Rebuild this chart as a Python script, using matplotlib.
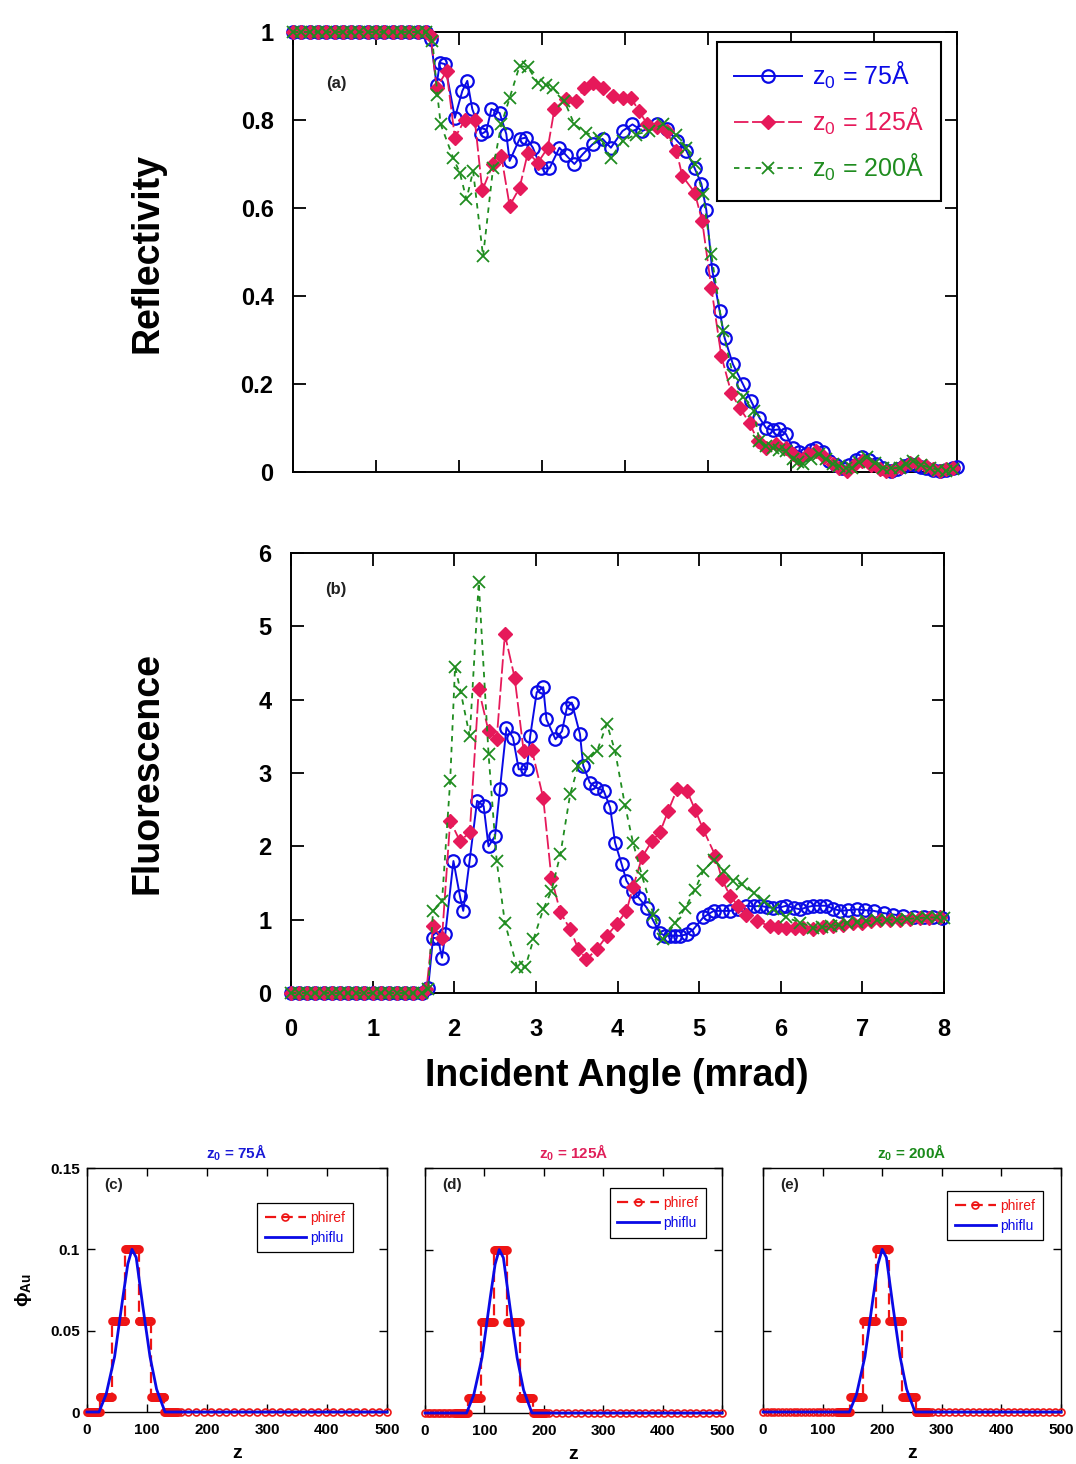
import numpy as np
import matplotlib
matplotlib.use('Agg')
import matplotlib.pyplot as plt
from matplotlib import font_manager
from matplotlib.ticker import FixedLocator, FixedFormatter

# ---------------- fonts ----------------
_names = {f.name for f in font_manager.fontManager.ttflist}
COND = 'Liberation Sans Narrow' if 'Liberation Sans Narrow' in _names else 'Liberation Sans'
plt.rcParams['font.family'] = [COND, 'DejaVu Sans']
plt.rcParams['mathtext.fontset'] = 'custom'
plt.rcParams['mathtext.rm'] = 'Liberation Sans'
plt.rcParams['mathtext.bf'] = 'Liberation Sans:bold'

# ---------------- colours ----------------
C_BLUE = '#0a0ae6'
C_RED = '#e6195a'
C_GREEN = '#1f8c1f'
C_REF = '#ee1515'

series_labels = ['$\\mathregular{z_0}$ = 75Å', '$\\mathregular{z_0}$ = 125Å', '$\\mathregular{z_0}$ = 200Å']

# ---------------- data: reflectivity ----------------
flat_x = [0.0, 0.1, 0.2, 0.3, 0.4, 0.5, 0.6, 0.7, 0.8, 0.9, 1.0, 1.1, 1.2, 1.3, 1.4, 1.5, 1.6]
flat_R = [1.0] * 17
flat_F = [0.0] * 17

R75_x = [1.66, 1.73, 1.77, 1.83, 1.95, 2.04, 2.10, 2.16, 2.27, 2.33, 2.39, 2.49, 2.57, 2.61,
         2.73, 2.81, 2.89, 2.99, 3.09, 3.21, 3.29, 3.39, 3.49, 3.61, 3.73, 3.83, 3.97, 4.09,
         4.21, 4.38, 4.50, 4.63, 4.74, 4.84, 4.92, 4.98, 5.05, 5.14, 5.20, 5.30, 5.42, 5.52,
         5.62, 5.70, 5.78, 5.86, 5.94, 6.02, 6.10, 6.18, 6.24, 6.30, 6.38, 6.46, 6.54, 6.62,
         6.70, 6.78, 6.86, 6.94, 7.03, 7.11, 7.20, 7.28, 7.36, 7.43, 7.51, 7.57, 7.63, 7.71,
         7.79, 7.87, 7.95, 8.00]
R75_y = [0.983, 0.88, 0.93, 0.927, 0.805, 0.866, 0.889, 0.825, 0.768, 0.775, 0.825, 0.816, 0.768, 0.707,
         0.757, 0.76, 0.737, 0.69, 0.69, 0.737, 0.72, 0.70, 0.722, 0.745, 0.757, 0.737, 0.775, 0.79,
         0.775, 0.79, 0.78, 0.752, 0.73, 0.69, 0.655, 0.595, 0.46, 0.366, 0.305, 0.245, 0.20, 0.161,
         0.123, 0.10, 0.095, 0.097, 0.086, 0.055, 0.045, 0.04, 0.05, 0.055, 0.045, 0.025, 0.015, 0.01,
         0.015, 0.028, 0.033, 0.028, 0.018, 0.008, 0.002, 0.006, 0.014, 0.018, 0.016, 0.012, 0.01, 0.005,
         0.002, 0.004, 0.01, 0.012]

R125_x = [1.66, 1.73, 1.85, 1.95, 2.07, 2.19, 2.28, 2.41, 2.51, 2.61, 2.73, 2.83, 2.95, 3.07,
          3.15, 3.29, 3.41, 3.51, 3.61, 3.73, 3.85, 3.97, 4.07, 4.17, 4.27, 4.38, 4.50, 4.62,
          4.69, 4.84, 4.93, 5.04, 5.16, 5.28, 5.38, 5.50, 5.60, 5.70, 5.82, 5.94, 6.02, 6.10,
          6.20, 6.30, 6.40, 6.50, 6.58, 6.67, 6.76, 6.86, 6.96, 7.07, 7.15, 7.22, 7.32, 7.43,
          7.53, 7.63, 7.71, 7.79, 7.87, 7.95]
R125_y = [0.99, 0.873, 0.911, 0.76, 0.80, 0.80, 0.64, 0.70, 0.718, 0.605, 0.646, 0.726, 0.703, 0.737,
          0.825, 0.848, 0.843, 0.873, 0.885, 0.873, 0.855, 0.851, 0.851, 0.82, 0.79, 0.783, 0.775, 0.73,
          0.673, 0.635, 0.57, 0.419, 0.264, 0.18, 0.146, 0.112, 0.07, 0.055, 0.064, 0.055, 0.04, 0.03,
          0.04, 0.048, 0.035, 0.018, 0.008, 0.002, 0.015, 0.025, 0.016, 0.007, 0.003, 0.002, 0.012, 0.021,
          0.018, 0.014, 0.007, 0.002, 0.006, 0.01]

R200_x = [1.68, 1.74, 1.78, 1.93, 2.01, 2.09, 2.17, 2.29, 2.41, 2.51, 2.61, 2.73, 2.83, 2.95,
          3.05, 3.13, 3.27, 3.39, 3.53, 3.69, 3.83, 3.97, 4.13, 4.29, 4.46, 4.62, 4.74, 4.84,
          4.94, 5.04, 5.18, 5.30, 5.42, 5.55, 5.62, 5.70, 5.78, 5.86, 5.94, 6.02, 6.08, 6.15,
          6.24, 6.34, 6.42, 6.50, 6.58, 6.66, 6.74, 6.82, 6.91, 7.01, 7.11, 7.21, 7.31, 7.39,
          7.47, 7.57, 7.67, 7.77, 7.87, 7.95]
R200_y = [0.98, 0.856, 0.79, 0.714, 0.68, 0.62, 0.684, 0.49, 0.69, 0.79, 0.85, 0.923, 0.92, 0.885,
          0.88, 0.873, 0.843, 0.79, 0.771, 0.76, 0.714, 0.752, 0.767, 0.775, 0.79, 0.767, 0.737, 0.70,
          0.631, 0.495, 0.32, 0.22, 0.17, 0.139, 0.07, 0.06, 0.055, 0.05, 0.048, 0.03, 0.022, 0.018,
          0.03, 0.04, 0.03, 0.018, 0.013, 0.01, 0.01, 0.022, 0.033, 0.02, 0.01, 0.008, 0.01, 0.018,
          0.025, 0.016, 0.01, 0.005, 0.002, 0.006]

# ---------------- data: fluorescence ----------------
F75_x = [1.68, 1.74, 1.80, 1.85, 1.89, 1.99, 2.07, 2.11, 2.19, 2.28, 2.36, 2.42, 2.50, 2.56,
         2.64, 2.72, 2.79, 2.89, 2.93, 3.01, 3.09, 3.13, 3.24, 3.32, 3.38, 3.44, 3.54, 3.58,
         3.66, 3.74, 3.83, 3.91, 3.97, 4.05, 4.11, 4.19, 4.26, 4.36, 4.44, 4.52, 4.58, 4.64,
         4.70, 4.77, 4.85, 4.93, 5.05, 5.12, 5.18, 5.28, 5.38, 5.48, 5.58, 5.67, 5.75, 5.83,
         5.91, 6.00, 6.07, 6.16, 6.24, 6.32, 6.40, 6.48, 6.56, 6.64, 6.73, 6.83, 6.93, 7.03,
         7.14, 7.26, 7.38, 7.50, 7.63, 7.75, 7.87, 7.97]
F75_y = [0.07, 0.75, 0.75, 0.48, 0.80, 1.80, 1.32, 1.12, 1.82, 2.62, 2.55, 2.00, 2.14, 2.78,
         3.62, 3.48, 3.05, 3.05, 3.50, 4.10, 4.17, 3.73, 3.46, 3.57, 3.89, 3.96, 3.53, 3.10,
         2.87, 2.80, 2.76, 2.53, 2.05, 1.76, 1.53, 1.39, 1.30, 1.16, 0.98, 0.82, 0.78, 0.78,
         0.78, 0.78, 0.80, 0.87, 1.03, 1.08, 1.12, 1.12, 1.12, 1.15, 1.19, 1.18, 1.19, 1.17,
         1.16, 1.17, 1.19, 1.16, 1.14, 1.17, 1.19, 1.19, 1.19, 1.15, 1.12, 1.13, 1.14, 1.13,
         1.12, 1.09, 1.07, 1.05, 1.03, 1.03, 1.03, 1.02]

F125_x = [1.66, 1.74, 1.85, 1.95, 2.07, 2.19, 2.30, 2.42, 2.52, 2.62, 2.74, 2.85, 2.95, 3.09,
          3.19, 3.30, 3.42, 3.52, 3.62, 3.75, 3.87, 3.99, 4.11, 4.19, 4.30, 4.42, 4.52, 4.62,
          4.73, 4.85, 4.95, 5.05, 5.20, 5.28, 5.38, 5.48, 5.58, 5.71, 5.87, 5.97, 6.07, 6.17,
          6.27, 6.40, 6.52, 6.64, 6.76, 6.88, 7.00, 7.11, 7.22, 7.34, 7.46, 7.58, 7.70, 7.82,
          7.95]
F125_y = [0.05, 0.91, 0.75, 2.35, 2.07, 2.19, 4.14, 3.57, 3.46, 4.89, 4.30, 3.30, 3.32, 2.66,
          1.57, 1.10, 0.87, 0.60, 0.46, 0.60, 0.78, 0.94, 1.12, 1.44, 1.85, 2.07, 2.19, 2.48,
          2.78, 2.76, 2.50, 2.23, 1.87, 1.55, 1.32, 1.19, 1.07, 0.98, 0.91, 0.90, 0.89, 0.89,
          0.89, 0.87, 0.90, 0.92, 0.93, 0.95, 0.96, 0.98, 1.00, 1.00, 1.00, 1.01, 1.02, 1.02,
          1.03]

F200_x = [1.68, 1.74, 1.85, 1.95, 2.01, 2.08, 2.19, 2.30, 2.42, 2.52, 2.62, 2.77, 2.87, 2.97,
          3.09, 3.19, 3.30, 3.42, 3.52, 3.64, 3.75, 3.87, 3.97, 4.09, 4.19, 4.30, 4.44, 4.56,
          4.71, 4.83, 4.95, 5.05, 5.18, 5.30, 5.42, 5.52, 5.67, 5.79, 5.91, 6.07, 6.24, 6.40,
          6.50, 6.61, 6.71, 6.81, 6.93, 7.05, 7.18, 7.30, 7.42, 7.55, 7.67, 7.79, 7.92, 8.00]
F200_y = [0.05, 1.12, 1.25, 2.89, 4.45, 4.10, 3.50, 5.60, 3.26, 1.80, 0.96, 0.35, 0.35, 0.73,
          1.14, 1.39, 1.89, 2.71, 3.10, 3.20, 3.30, 3.67, 3.30, 2.57, 2.05, 1.60, 1.07, 0.73,
          0.96, 1.16, 1.41, 1.66, 1.82, 1.66, 1.53, 1.48, 1.37, 1.25, 1.14, 1.03, 0.96, 0.89,
          0.90, 0.91, 0.93, 0.96, 0.97, 0.98, 0.99, 1.00, 1.00, 1.01, 1.02, 1.03, 1.03, 1.02]

# ---------------- data: composition profiles ----------------
panel_tags = ['(c)', '(d)', '(e)']
panel_titles = ['$\\mathregular{z_0}$ = 75Å', '$\\mathregular{z_0}$ = 125Å', '$\\mathregular{z_0}$ = 200Å']
phi_levels = [0.0, 0.0093, 0.056, 0.1, 0.056, 0.0093, 0.0]
phiref_edges = [[0, 21, 42, 64, 86, 107, 129, 151],
                [50, 72, 94, 116, 138, 160, 182, 204]]
phiref_edges.append([125, 146, 168, 190, 212, 234, 256, 278])
# number of sparse zero-valued samples to the left / right of the profile
zero_left_n = [0, 12, 20]
zero_right_n = [28, 28, 23]

phiflu_z = [[0, 20, 32, 46, 60, 68, 75, 82, 93, 105, 116, 127, 130, 500],
            [0, 70, 82, 96, 110, 118, 125, 132, 143, 155, 166, 177, 180, 500],
            [0, 145, 157, 171, 185, 193, 200, 207, 218, 230, 241, 252, 255, 500]]
phiflu_v = [0, 0, 0.011, 0.034, 0.071, 0.091, 0.1, 0.095, 0.065, 0.034, 0.014, 0.003, 0, 0]

title_colors = ['#1a1ad6', '#e0205a', '#1a8a1a']

# ---------------- figure ----------------
W, H = 1076, 1464
fig = plt.figure(figsize=(W / 100, H / 100), dpi=100)

def ax_px(l, t, r, b):
    return fig.add_axes([l / W, 1 - b / H, (r - l) / W, (b - t) / H])

BIGTICK = dict(family=[COND, 'DejaVu Sans'], weight='bold', size=17)

def style_big(ax):
    for s in ax.spines.values():
        s.set_linewidth(1.4)
    ax.tick_params(which='both', direction='in', top=True, right=True,
                   length=9, width=1.3)

# --- (a) reflectivity
axA = ax_px(293, 32, 957, 472)
style_big(axA)
mk = dict(clip_on=False)
axA.plot(flat_x + R75_x, flat_R + R75_y, color=C_BLUE, lw=1.4, marker='o', ms=9,
         mfc='none', mec=C_BLUE, mew=1.6, label=series_labels[0], zorder=3, **mk)
axA.plot(flat_x + R125_x, flat_R + R125_y, color=C_RED, lw=1.3, dashes=(8, 2), marker='D', ms=7,
         mfc=C_RED, mec=C_RED, label=series_labels[1], zorder=4, **mk)
axA.plot(flat_x + R200_x, flat_R + R200_y, color=C_GREEN, lw=1.3, dashes=(3, 3), marker='x', ms=9,
         mew=1.3, label=series_labels[2], zorder=5, **mk)
axA.set_xlim(0, 8)
axA.set_ylim(0, 1)
axA.xaxis.set_major_locator(FixedLocator([0, 1, 2, 3, 4, 5, 6, 7, 8]))
axA.set_xticklabels([])
axA.yaxis.set_major_locator(FixedLocator([0, 0.2, 0.4, 0.6, 0.8, 1.0]))
axA.yaxis.set_major_formatter(FixedFormatter(['0', '0.2', '0.4', '0.6', '0.8', '1']))
for t in axA.get_yticklabels():
    t.set_fontproperties(font_manager.FontProperties(**BIGTICK))
axA.tick_params(axis='y', pad=14)
axA.text(0.066, 0.882, '(a)', transform=axA.transAxes, ha='center', va='center',
         fontsize=12, fontweight='bold', color='#222222')
leg = axA.legend(loc='upper right', bbox_to_anchor=(0.976, 0.977), borderaxespad=0,
                 prop={'family': 'Liberation Sans', 'size': 18}, handlelength=2.7,
                 fancybox=False, framealpha=1, edgecolor='black', labelspacing=0.6,
                 borderpad=0.7, handletextpad=0.4)
leg.get_frame().set_linewidth(1.5)
for txt, c in zip(leg.get_texts(), [C_BLUE, C_RED, C_GREEN]):
    txt.set_color(c)

# --- (b) fluorescence
axB = ax_px(291, 553, 944, 993)
style_big(axB)
axB.plot(flat_x + F75_x, flat_F + F75_y, color=C_BLUE, lw=1.4, marker='o', ms=9,
         mfc='none', mec=C_BLUE, mew=1.6, zorder=3, **mk)
axB.plot(flat_x + F125_x, flat_F + F125_y, color=C_RED, lw=1.3, dashes=(8, 2), marker='D', ms=7,
         mfc=C_RED, mec=C_RED, zorder=4, **mk)
axB.plot(flat_x + F200_x, flat_F + F200_y, color=C_GREEN, lw=1.3, dashes=(3, 3), marker='x', ms=9,
         mew=1.3, zorder=5, **mk)
axB.set_xlim(0, 8)
axB.set_ylim(0, 6)
axB.xaxis.set_major_locator(FixedLocator([0, 1, 2, 3, 4, 5, 6, 7, 8]))
axB.xaxis.set_major_formatter(FixedFormatter(['0', '1', '2', '3', '4', '5', '6', '7', '8']))
axB.yaxis.set_major_locator(FixedLocator([0, 1, 2, 3, 4, 5, 6]))
axB.yaxis.set_major_formatter(FixedFormatter(['0', '1', '2', '3', '4', '5', '6']))
for t in axB.get_yticklabels() + axB.get_xticklabels():
    t.set_fontproperties(font_manager.FontProperties(**BIGTICK))
axB.tick_params(axis='y', pad=14)
axB.tick_params(axis='x', pad=18)
axB.text(0.069, 0.916, '(b)', transform=axB.transAxes, ha='center', va='center',
         fontsize=12, fontweight='bold', color='#222222')

LBL = dict(family=[COND, 'DejaVu Sans'], weight='bold', size=27)
fig.text(147 / W, 1 - 253 / H, 'Reflectivity', rotation=90, ha='center', va='center', **LBL)
fig.text(147 / W, 1 - 773 / H, 'Fluorescence', rotation=90, ha='center', va='center', **LBL)
fig.text(617 / W, 1 - 1076 / H, 'Incident Angle (mrad)', ha='center', va='center', **LBL)

# --- (c)(d)(e) profiles
small_boxes = [(87, 1168, 387, 1412), (425, 1168, 722, 1413), (763, 1168, 1061, 1412)]
leg_anchor = [(0.887, 0.857), (0.946, 0.918), (0.94, 0.906)]
SMALLTICK = dict(family=[COND, 'DejaVu Sans'], weight='bold', size=11)
for i in range(3):
    ax = ax_px(*small_boxes[i])
    for s in ax.spines.values():
        s.set_linewidth(1.0)
    ax.tick_params(which='both', direction='in', top=True, right=True, length=6, width=1.0)
    edges = phiref_edges[i]
    # step profile sampled across each layer
    zs, vs = [], []
    if zero_left_n[i] > 0:
        zl = np.linspace(0, edges[0] - 3, zero_left_n[i])
        zs += list(zl)
        vs += [0.0] * len(zl)
    for k, lev in enumerate(phi_levels):
        seg = np.linspace(edges[k], edges[k + 1], 16)
        zs += list(seg)
        vs += [lev] * len(seg)
    zr = np.linspace(edges[-1] + 5, 500, zero_right_n[i])
    zs += list(zr)
    vs += [0.0] * len(zr)
    ax.plot(zs, vs, color=C_REF, lw=1.6, dashes=(5, 2.5), marker='o', ms=5, mfc='none',
            mec=C_REF, mew=1.2, label='phiref', clip_on=False, zorder=3)
    ax.plot(phiflu_z[i], phiflu_v, color=C_BLUE, lw=2.0, label='phiflu', zorder=4, clip_on=False)
    ax.set_xlim(0, 500)
    ax.set_ylim(0, 0.15)
    ax.xaxis.set_major_locator(FixedLocator([0, 100, 200, 300, 400, 500]))
    ax.xaxis.set_major_formatter(FixedFormatter(['0', '100', '200', '300', '400', '500']))
    ax.yaxis.set_major_locator(FixedLocator([0, 0.05, 0.1, 0.15]))
    if i == 0:
        ax.yaxis.set_major_formatter(FixedFormatter(['0', '0.05', '0.1', '0.15']))
        ax.set_ylabel('$\\mathbf{\\phi_{Au}}$', fontsize=14, labelpad=12)
    else:
        ax.set_yticklabels([])
    for t in ax.get_yticklabels() + ax.get_xticklabels():
        t.set_fontproperties(font_manager.FontProperties(**SMALLTICK))
    ax.tick_params(axis='x', pad=8)
    ax.tick_params(axis='y', pad=5)
    ax.set_xlabel('z', fontsize=14, fontweight='bold', labelpad=6)
    ax.set_title(panel_titles[i], fontsize=11, fontweight='bold', color=title_colors[i], pad=7)
    ax.text(0.09, 0.93, panel_tags[i], transform=ax.transAxes, ha='center', va='center',
            fontsize=11, fontweight='bold', color='#222222')
    lg = ax.legend(loc='upper right', bbox_to_anchor=leg_anchor[i], borderaxespad=0,
                   prop={'family': 'Liberation Sans', 'size': 10}, handlelength=3.0,
                   fancybox=False, framealpha=1, edgecolor='black', labelspacing=0.45,
                   borderpad=0.55, handletextpad=0.3, markerscale=1.0)
    lg.get_frame().set_linewidth(0.9)
    for txt, c in zip(lg.get_texts(), [C_REF, C_BLUE]):
        txt.set_color(c)

fig.savefig('out.png', dpi=100, facecolor='white')
